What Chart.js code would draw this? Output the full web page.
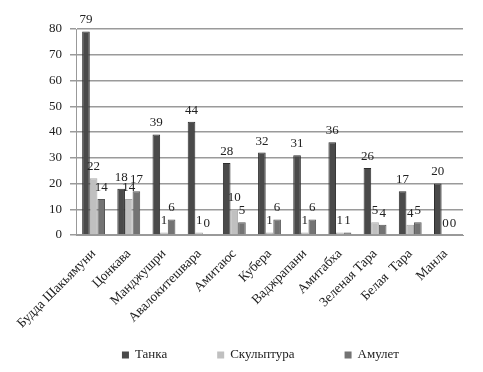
<!DOCTYPE html>
<html><head><meta charset="utf-8">
<script src="https://cdn.jsdelivr.net/npm/chart.js@4/dist/chart.umd.min.js"></script>
<style>html,body{margin:0;padding:0;background:#fff}#c{display:block}</style>
</head><body>
<canvas id="c" width="483" height="372"></canvas>
<script>
const categories = ["Будда Шакьямуни","Цонкава","Манджушри","Авалокитешвара","Амитаюс","Кубера","Ваджрапани","Амитабха","Зеленая Тара","Белая  Тара","Манла"];
const tanka = [79,18,39,44,28,32,31,36,26,17,20];
const sculpture = [22,14,1,1,10,1,1,1,5,4,0];
const amulet = [14,17,6,0,5,6,6,1,4,5,0];
const yTicks = [0,10,20,30,40,50,60,70,80];
const FONT = '"Liberation Serif", serif';

const labelPlugin = {
  id: 'vals',
  afterDatasetsDraw(chart) {
    const ctx = chart.ctx;
    ctx.save();
    ctx.font = '13px ' + FONT;
    ctx.fillStyle = '#222';
    ctx.textAlign = 'center';
    ctx.textBaseline = 'bottom';
    chart.data.datasets.forEach((ds, i) => {
      const meta = chart.getDatasetMeta(i);
      meta.data.forEach((bar, j) => {
        ctx.fillText(String(ds.data[j]), bar.x, bar.y - 5);
      });
    });
    ctx.restore();
  }
};

const legendPlugin = {
  id: 'customLegend',
  afterDraw(chart) {
    const ctx = chart.ctx;
    ctx.save();
    ctx.font = '13px ' + FONT;
    ctx.textBaseline = 'middle';
    const gap = 50, box = 7, tgap = 6;
    const items = chart.data.datasets.map(ds => ({t: ds.label, c: ds.backgroundColor, w: box + tgap + ctx.measureText(ds.label).width}));
    const total = items.reduce((s, it) => s + it.w, 0) + gap * (items.length - 1);
    let x = (chart.width - total) / 2 + 19;
    const y = 355;
    items.forEach(it => {
      ctx.fillStyle = it.c;
      ctx.fillRect(x, y - box / 2, box, box);
      ctx.fillStyle = '#222';
      ctx.textAlign = 'left';
      ctx.fillText(it.t, x + box + tgap, y);
      x += it.w + gap;
    });
    ctx.restore();
  }
};

new Chart(document.getElementById('c'), {
  type: 'bar',
  data: {
    labels: categories,
    datasets: [
      {label: 'Танка', data: tanka, backgroundColor: '#4a4a4a', borderColor: '#2e2e2e', borderWidth: 1},
      {label: 'Скульптура', data: sculpture, backgroundColor: '#c0c0c0', borderColor: '#a8a8a8', borderWidth: 1},
      {label: 'Амулет', data: amulet, backgroundColor: '#737373', borderColor: '#555', borderWidth: 1}
    ]
  },
  options: {
    responsive: false,
    animation: false,
    layout: {padding: {left: 0, right: 20, top: 29, bottom: 37}},
    datasets: {bar: {categoryPercentage: 0.65, barPercentage: 1.0}},
    plugins: {
      legend: {display: false},
      tooltip: {enabled: false}
    },
    scales: {
      x: {
        afterFit(axis) { axis.height = 100; },
        grid: {display: false, drawTicks: true},
        border: {color: '#999'},
        ticks: {minRotation: 45, maxRotation: 45, color: '#222', font: {family: FONT, size: 13.5}}
      },
      y: {
        min: 0, max: 80,
        afterFit(axis) { axis.width = 76; },
        afterBuildTicks(axis) { axis.ticks = yTicks.map(v => ({value: v})); },
        grid: {color: '#9a9a9a', lineWidth: 1.5, tickLength: 6},
        border: {color: '#999'},
        ticks: {padding: 8, color: '#222', font: {family: FONT, size: 13}}
      }
    }
  },
  plugins: [labelPlugin, legendPlugin]
});
</script>
</body></html>
